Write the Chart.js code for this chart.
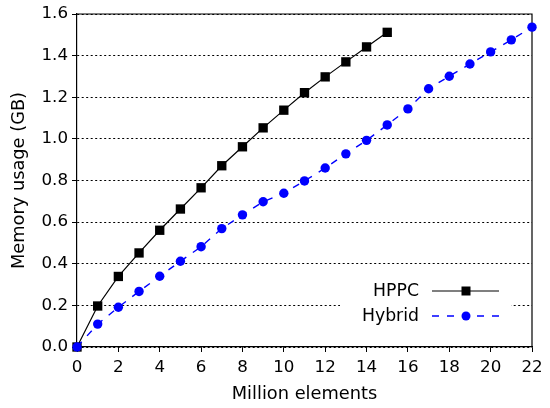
<!DOCTYPE html>
<html>
<head>
<meta charset="utf-8">
<script src="https://cdn.jsdelivr.net/npm/chart.js@4.4.0/dist/chart.umd.min.js"></script>
<style>
html, body { margin: 0; padding: 0; background: #fff; }
</style>
</head>
<body>
<canvas id="memChart" width="550" height="408"></canvas>
<script>
// values
const hppcX = [0, 1, 2, 3, 4, 5, 6, 7, 8, 9, 10, 11, 12, 13, 14, 15];
const hppcMem = [0, 0.197, 0.339, 0.452, 0.561, 0.663, 0.765, 0.871, 0.962, 1.053, 1.138, 1.222, 1.298, 1.370, 1.442, 1.512];
const hybridX = [0, 1, 2, 3, 4, 5, 6, 7, 8, 9, 10, 11, 12, 13, 14, 15, 16, 17, 18, 19, 20, 21, 22];
const hybridMem = [0, 0.110, 0.191, 0.267, 0.340, 0.412, 0.482, 0.569, 0.635, 0.698, 0.739, 0.798, 0.860, 0.928, 0.993, 1.067, 1.144, 1.241, 1.301, 1.360, 1.418, 1.476, 1.537];
const xTicks = [0, 2, 4, 6, 8, 10, 12, 14, 16, 18, 20, 22];
const yTicks = [0, 0.2, 0.4, 0.6, 0.8, 1.0, 1.2, 1.4, 1.6];

const font = { family: "'DejaVu Sans', sans-serif", size: 16.7 };
const titleFont = { family: "'DejaVu Sans', sans-serif", size: 17.8 };

function toPoints(xs, ys) {
    return xs.map(function (x, i) { return { x: x, y: ys[i] }; });
}

// top/right edges of the frame
const frame = {
    id: 'frame',
    beforeDatasetsDraw(chart) {
        const a = chart.chartArea, ctx = chart.ctx;
        ctx.save();
        ctx.strokeStyle = '#000';
        ctx.lineWidth = 1.2;
        ctx.beginPath();
        ctx.moveTo(a.left, a.top);
        ctx.lineTo(a.right, a.top);
        ctx.lineTo(a.right, a.bottom);
        ctx.stroke();
        ctx.restore();
    }
};

// legend inside the plot, lower right
const innerLegend = {
    id: 'innerLegend',
    afterDatasetsDraw(chart) {
        const a = chart.chartArea, ctx = chart.ctx;
        ctx.save();
        ctx.fillStyle = '#fff';
        ctx.fillRect(a.right - 192, a.bottom - 75, 171, 60);

        ctx.font = '17.3px ' + font.family;
        ctx.textAlign = 'right';
        ctx.textBaseline = 'middle';

        const sets = chart.data.datasets;
        sets.forEach(function (ds, i) {
            const y = a.bottom - 56 + i * 25;
            ctx.fillStyle = '#000';
            ctx.fillText(ds.label, a.right - 113, y + 1);
            ctx.strokeStyle = ds.borderColor;
            ctx.lineWidth = ds.borderWidth;
            ctx.setLineDash(ds.borderDash || []);
            ctx.beginPath();
            ctx.moveTo(a.right - 100, y);
            ctx.lineTo(a.right - 33, y);
            ctx.stroke();
            ctx.setLineDash([]);
            const mx = a.right - 66;
            ctx.fillStyle = ds.pointBackgroundColor;
            ctx.beginPath();
            if (ds.pointStyle === 'rect') {
                ctx.rect(mx - 4.5, y - 4.5, 9, 9);
            } else {
                ctx.arc(mx, y, 4.5, 0, Math.PI * 2);
            }
            ctx.fill();
        });
        ctx.restore();
    }
};

const ctx = document.getElementById('memChart').getContext('2d');
new Chart(ctx, {
    type: 'line',
    data: {
        datasets: [{
            label: 'HPPC',
            data: toPoints(hppcX, hppcMem),
            borderColor: '#000',
            borderWidth: 1.2,
            pointStyle: 'rect',
            pointRadius: 6.6,
            pointBorderWidth: 0,
            pointBackgroundColor: '#000',
            clip: false,
            order: 1
        }, {
            label: 'Hybrid',
            data: toPoints(hybridX, hybridMem),
            borderColor: '#0000ff',
            borderWidth: 1.4,
            borderDash: [7, 8],
            pointStyle: 'circle',
            pointRadius: 4.7,
            pointBorderWidth: 0,
            pointBackgroundColor: '#0000ff',
            clip: false,
            order: 0
        }]
    },
    options: {
        responsive: false,
        animation: false,
        layout: { padding: { top: 14, right: 18, left: 0, bottom: 0 } },
        plugins: {
            legend: { display: false },
            tooltip: { enabled: false }
        },
        scales: {
            x: {
                type: 'linear',
                min: 0,
                max: 22,
                afterBuildTicks: function (scale) {
                    scale.ticks = xTicks.map(function (v) { return { value: v }; });
                },
                afterFit: function (scale) { scale.height = 61; },
                grid: { drawOnChartArea: false, drawTicks: true, tickLength: 5, tickColor: '#000', color: '#000' },
                border: { color: '#000', width: 1.2 },
                ticks: { color: '#000', font: font, padding: 6, maxRotation: 0 },
                title: { display: true, text: 'Million elements', color: '#000', font: titleFont, padding: { top: 2, bottom: 3 } }
            },
            y: {
                min: 0,
                max: 1.6,
                afterBuildTicks: function (scale) {
                    scale.ticks = yTicks.map(function (v) { return { value: v }; });
                },
                afterFit: function (scale) { scale.width = 77; },
                grid: { color: '#000', lineWidth: 1, drawTicks: true, tickLength: 5, tickColor: '#000' },
                border: { color: '#000', width: 1.2, dash: [2, 2.5] },
                ticks: {
                    color: '#000', font: font, padding: 4,
                    callback: function (v) { return v.toFixed(1); }
                },
                title: { display: true, text: 'Memory usage (GB)', color: '#000', font: titleFont, padding: { top: 9, bottom: 0 } }
            }
        }
    },
    plugins: [frame, innerLegend]
});
</script>
</body>
</html>
